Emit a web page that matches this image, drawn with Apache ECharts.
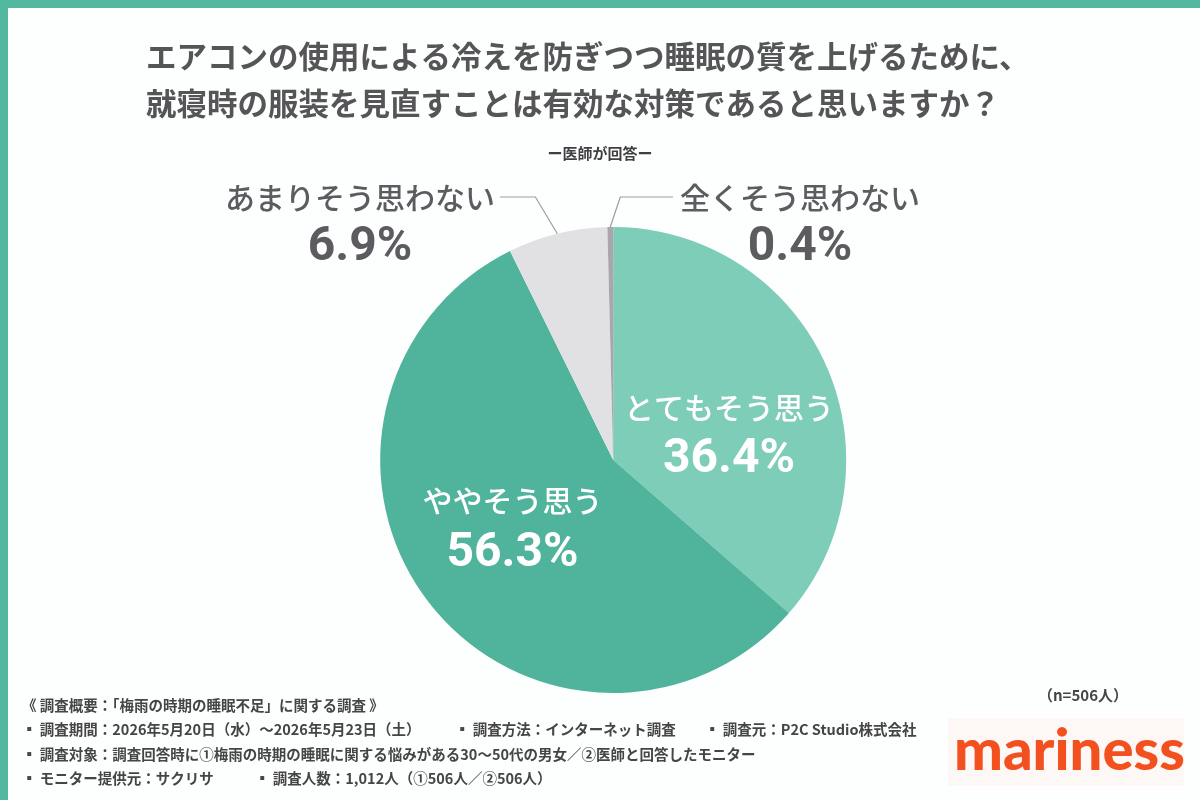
<!DOCTYPE html>
<html lang="ja">
<head>
<meta charset="utf-8">
<title>就寝時の服装 - 医師が回答</title>
<script src="https://cdn.jsdelivr.net/npm/echarts@6/dist/echarts.min.js"></script>
<style>
  html, body { margin: 0; padding: 0; background: #fff; }
  #chart { width: 1200px; height: 800px; }
</style>
</head>
<body>
<div id="chart"></div>
<script>
// --- data -------------------------------------------------------------
const categories = ['とてもそう思う', 'ややそう思う', 'あまりそう思わない', '全くそう思わない'];
const shares = [36.4, 56.3, 6.9, 0.4];
const sliceColors = ['#7dcdb8', '#4fb49b', '#e1e1e4', '#a9a7ac'];

const titleLines = [
  'エアコンの使用による冷えを防ぎつつ睡眠の質を上げるために、',
  '就寝時の服装を見直すことは有効な対策であると思いますか？'
];
const subtitle = 'ー医師が回答ー';
const sampleNote = '（n=506人）';
const footerLines = [
  ['《 調査概要：「梅雨の時期の睡眠不足」に関する調査 》'],
  ['▪ 調査期間：2026年5月20日（水）〜2026年5月23日（土）', '▪ 調査方法：インターネット調査', '▪ 調査元：P2C Studio株式会社'],
  ['▪ 調査対象：調査回答時に①梅雨の時期の睡眠に関する悩みがある30〜50代の男女／②医師と回答したモニター'],
  ['▪ モニター提供元：サクリサ', '▪ 調査人数：1,012人（①506人／②506人）']
];
const brand = 'mariness';

// --- style constants -------------------------------------------------
const JP = '"Noto Sans CJK JP", "Noto Sans", sans-serif';
const NUM = 'Roboto, "DejaVu Sans", sans-serif';
const TEAL = '#52b8a0';
const GREY_TEXT = '#5c5c60';

const footerX = [[22], [22, 455, 705], [22], [22, 255]];
const footerY = [708, 732, 757, 781];

// outside labels (あまり / 全く) sit above the pie; the leader bends up then runs flat to the text
const LEADER_Y = 197;
const labelSpots = {
  2: { x: 360, y: 176, align: 'center', verticalAlign: 'top', bendDx: -22, endX: 500 },
  3: { x: 800, y: 176, align: 'center', verticalAlign: 'top', bendDx: 10, endX: 673 },
  0: { dx: 7, dy: 25 },
  1: { dx: -6, dy: -4 }
};

const chart = echarts.init(document.getElementById('chart'), null, { renderer: 'canvas' });

const footerGraphics = [];
footerLines.forEach((row, r) => {
  row.forEach((txt, c) => {
    footerGraphics.push({
      type: 'text',
      left: footerX[r][c],
      top: footerY[r] - 10,
      style: { text: txt, fill: '#454545', font: 'bold 14.5px ' + JP }
    });
  });
});

const seriesData = categories.map((name, i) => {
  const inside = i < 2;
  const textColor = inside ? '#fff' : GREY_TEXT;
  return {
    name,
    value: shares[i],
    itemStyle: { color: sliceColors[i] },
    label: {
      position: inside ? 'inside' : 'outside',
      formatter: '{n|{b}}\n{v|{c}%}',
      rich: {
        n: { fontFamily: JP, fontSize: 30, fontWeight: 500, color: textColor, lineHeight: inside ? 50 : 44, align: 'center' },
        v: { fontFamily: NUM, fontSize: 48, fontWeight: 'bold', color: textColor, lineHeight: 56, align: 'center' }
      }
    },
    labelLine: inside
      ? { show: false }
      : { show: true, length: 20, length2: 30, lineStyle: { color: '#9c9c9f', width: 1.2 } }
  };
});

chart.setOption({
  backgroundColor: '#ffffff',
  animation: false,
  graphic: [
    {
      type: 'rect',
      left: 0, top: 0, z: -10,
      shape: { width: 1200, height: 800 },
      style: { fill: '#fdfefe', stroke: TEAL, lineWidth: 8 }
    },
    {
      type: 'text', left: 146, top: 41,
      style: { text: titleLines[0], fill: '#555558', font: 'bold 30.5px ' + JP }
    },
    {
      type: 'text', left: 146, top: 88,
      style: { text: titleLines[1], fill: '#555558', font: 'bold 30.5px ' + JP }
    },
    {
      type: 'text', left: 'center', top: 146,
      style: { text: subtitle, fill: '#3f3f42', font: 'bold 15px ' + JP }
    },
    {
      type: 'text', left: 1038, top: 688,
      style: { text: sampleNote, fill: '#454545', font: 'bold 15px ' + JP }
    },
    {
      type: 'rect', left: 948, top: 718,
      shape: { width: 236, height: 68 },
      style: { fill: '#fdf7f5' }
    },
    {
      type: 'text', left: 954, top: 722,
      style: { text: brand, fill: '#f2501f', font: '900 58px Lato, "DejaVu Sans", sans-serif' }
    }
  ].concat(footerGraphics),
  series: [
    {
      type: 'pie',
      center: ['51.1%', '57.5%'],
      radius: 233,
      startAngle: 90,
      clockwise: true,
      silent: true,
      data: seriesData,
      labelLayout: (params) => {
        const spot = labelSpots[params.dataIndex];
        if (!spot) return {};
        if (spot.endX == null) return { dx: spot.dx, dy: spot.dy };
        const start = params.labelLinePoints ? params.labelLinePoints[0] : null;
        const out = { x: spot.x, y: spot.y, align: spot.align, verticalAlign: spot.verticalAlign };
        if (start) {
          out.labelLinePoints = [start, [start[0] + spot.bendDx, LEADER_Y], [spot.endX, LEADER_Y]];
        }
        return out;
      }
    }
  ]
});
</script>
</body>
</html>
